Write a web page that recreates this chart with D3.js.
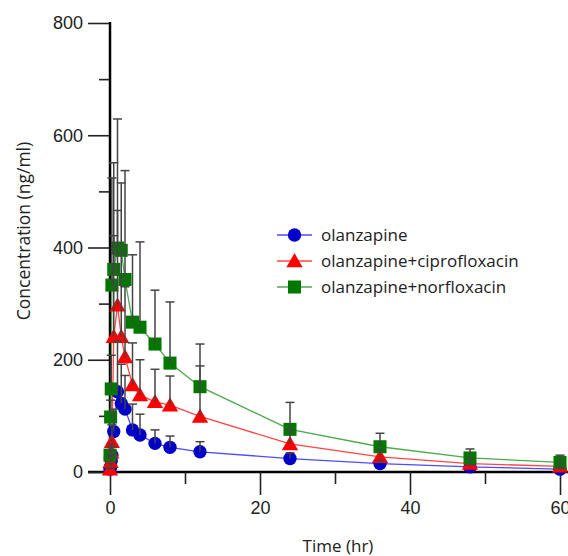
<!DOCTYPE html>
<html>
<head>
<meta charset="utf-8">
<script src="https://cdn.jsdelivr.net/npm/d3@7"></script>
<style>
  body { margin: 0; background: #fff; }
  svg { display: block; font-family: "Open Sans", "Noto Sans", sans-serif; }
</style>
</head>
<body>
<div id="chart"></div>
<script>
// sampling times (hr)
var times = [0, 0.083, 0.167, 0.25, 0.5, 1, 1.5, 2, 3, 4, 6, 8, 12, 24, 36, 48, 60]

var olanzapine = [5, 10, 20, 30, 72, 143, 122, 112, 75, 66, 51, 44, 36, 24, 15, 9, 5]
var olanzapineSD = [2, 5, 10, 15, 40, 90, 70, 60, 46, 37, 24, 20, 18, 10, 6, 4, 3]

var cipro = [5, 18, 35, 54, 241, 297, 241, 205, 155, 137, 125, 119, 99, 50, 27, 15, 10]
var ciproSD = [3, 8, 15, 30, 180, 169, 149, 125, 75, 63, 58, 52, 90, 25, 12, 8, 5]

var norflox = [30, 98, 148, 333, 361, 399, 395, 343, 267, 258, 228, 194, 152, 76, 45, 25, 17]
var norfloxSD = [10, 30, 60, 191, 190, 230, 120, 194, 120, 152, 96, 109, 76, 48, 24, 16, 13]

var seriesNames = ['olanzapine', 'olanzapine+ciprofloxacin', 'olanzapine+norfloxacin']

var xTicks = [0, 20, 40, 60]
var xMinor = [10, 30, 50]
var yTicks = [0, 200, 400, 600, 800]
var yMinor = [100, 300, 500, 700]

var width = 568
var height = 556

var svg = d3
  .select('#chart')
  .append('svg')
  .attr('width', width)
  .attr('height', height)

var x = d3.scaleLinear().domain([0, 60]).range([110, 560])
var y = d3.scaleLinear().domain([0, 800]).range([472, 23])

var series = [
  { name: seriesNames[0], mean: olanzapine, sd: olanzapineSD, line: '#4b4bff', fill: '#0000c8', shape: 'circle' },
  { name: seriesNames[1], mean: cipro, sd: ciproSD, line: '#ff4646', fill: '#ff0000', shape: 'triangle' },
  { name: seriesNames[2], mean: norflox, sd: norfloxSD, line: '#4caa4c', fill: '#007800', shape: 'square' }
]

function symbolPath(shape) {
  if (shape === 'circle') return d3.symbol().type(d3.symbolCircle).size(140)()
  if (shape === 'triangle') return d3.symbol().type(d3.symbolTriangle).size(115)()
  return d3.symbol().type(d3.symbolSquare).size(170)()
}

// axes
var xAxis = svg.append('g').attr('transform', 'translate(0,472)')
xAxis.append('line')
  .attr('x1', 88).attr('x2', width + 5)
  .attr('stroke', '#000').attr('stroke-width', 2.5)
xAxis.call(d3.axisBottom(x).tickValues(xTicks).tickSize(23).tickFormat(d3.format('d')))
xAxis.select('.domain').remove()
xAxis.selectAll('.tick line').attr('stroke', '#222').attr('stroke-width', 1.6)
xAxis.selectAll('.tick text')
  .attr('font-size', 18).attr('fill', '#222').attr('y', 29).attr('font-family', null)
svg.append('g').attr('transform', 'translate(0,472)')
  .call(d3.axisBottom(x).tickValues(xMinor).tickSize(12).tickFormat(''))
  .call(g => g.select('.domain').remove())
  .selectAll('.tick line').attr('stroke', '#222').attr('stroke-width', 1.6)

var yAxis = svg.append('g').attr('transform', 'translate(110,0)')
yAxis.call(d3.axisLeft(y).tickValues(yTicks).tickSize(22).tickFormat(d3.format('d')))
yAxis.select('.domain').remove()
yAxis.selectAll('.tick line').attr('stroke', '#222').attr('stroke-width', 1.6)
yAxis.selectAll('.tick text')
  .attr('font-size', 18).attr('fill', '#222').attr('x', -27).attr('font-family', null)
svg.append('g').attr('transform', 'translate(110,0)')
  .call(d3.axisLeft(y).tickValues(yMinor).tickSize(11).tickFormat(''))
  .call(g => g.select('.domain').remove())
  .selectAll('.tick line').attr('stroke', '#222').attr('stroke-width', 1.6)
svg.append('line')
  .attr('x1', 110).attr('x2', 110).attr('y1', 22).attr('y2', 473)
  .attr('stroke', '#000').attr('stroke-width', 2.5)

svg.append('text')
  .attr('x', 338).attr('y', 552)
  .attr('text-anchor', 'middle')
  .attr('font-size', 17).attr('fill', '#222')
  .text('Time (hr)')

svg.append('text')
  .attr('transform', 'translate(30,231) rotate(-90)')
  .attr('text-anchor', 'middle')
  .attr('font-size', 17.5).attr('fill', '#222')
  .text('Concentration (ng/ml)')

// lines
var line = d3.line()
  .x((d, i) => x(times[i]))
  .y(d => y(d))

series.forEach(s => {
  svg.append('path')
    .datum(s.mean)
    .attr('d', line)
    .attr('fill', 'none')
    .attr('stroke', s.line)
    .attr('stroke-width', 1.3)
})

// markers
series.forEach(s => {
  svg.append('g')
    .selectAll('path')
    .data(s.mean)
    .join('path')
    .attr('d', symbolPath(s.shape))
    .attr('transform', (d, i) => `translate(${x(times[i])},${y(d) + (s.shape === 'triangle' ? 1.5 : 0)})`)
    .attr('fill', s.fill)
})

// error bars (upper only), drawn on top
series.forEach(s => {
  var g = svg.append('g')
    .attr('stroke', '#444')
    .attr('stroke-width', 1.5)
  s.mean.forEach((m, i) => {
    var cx = x(times[i])
    var top = y(m + s.sd[i])
    g.append('line').attr('x1', cx).attr('x2', cx).attr('y1', y(m)).attr('y2', top)
    g.append('line').attr('x1', cx - 4.5).attr('x2', cx + 4.5).attr('y1', top).attr('y2', top)
  })
})

// legend
var legend = svg.append('g')
series.forEach((s, i) => {
  var ly = 235 + i * 26
  legend.append('line')
    .attr('x1', 277).attr('x2', 312).attr('y1', ly).attr('y2', ly)
    .attr('stroke', s.line).attr('stroke-width', 1.3)
  legend.append('path')
    .attr('d', symbolPath(s.shape))
    .attr('transform', `translate(294.5,${ly + (s.shape === 'triangle' ? 1.5 : 0)})`)
    .attr('fill', s.fill)
  legend.append('text')
    .attr('x', 321).attr('y', ly)
    .attr('dy', '0.35em')
    .attr('font-size', 17).attr('fill', '#222')
    .text(s.name)
})
</script>
</body>
</html>
